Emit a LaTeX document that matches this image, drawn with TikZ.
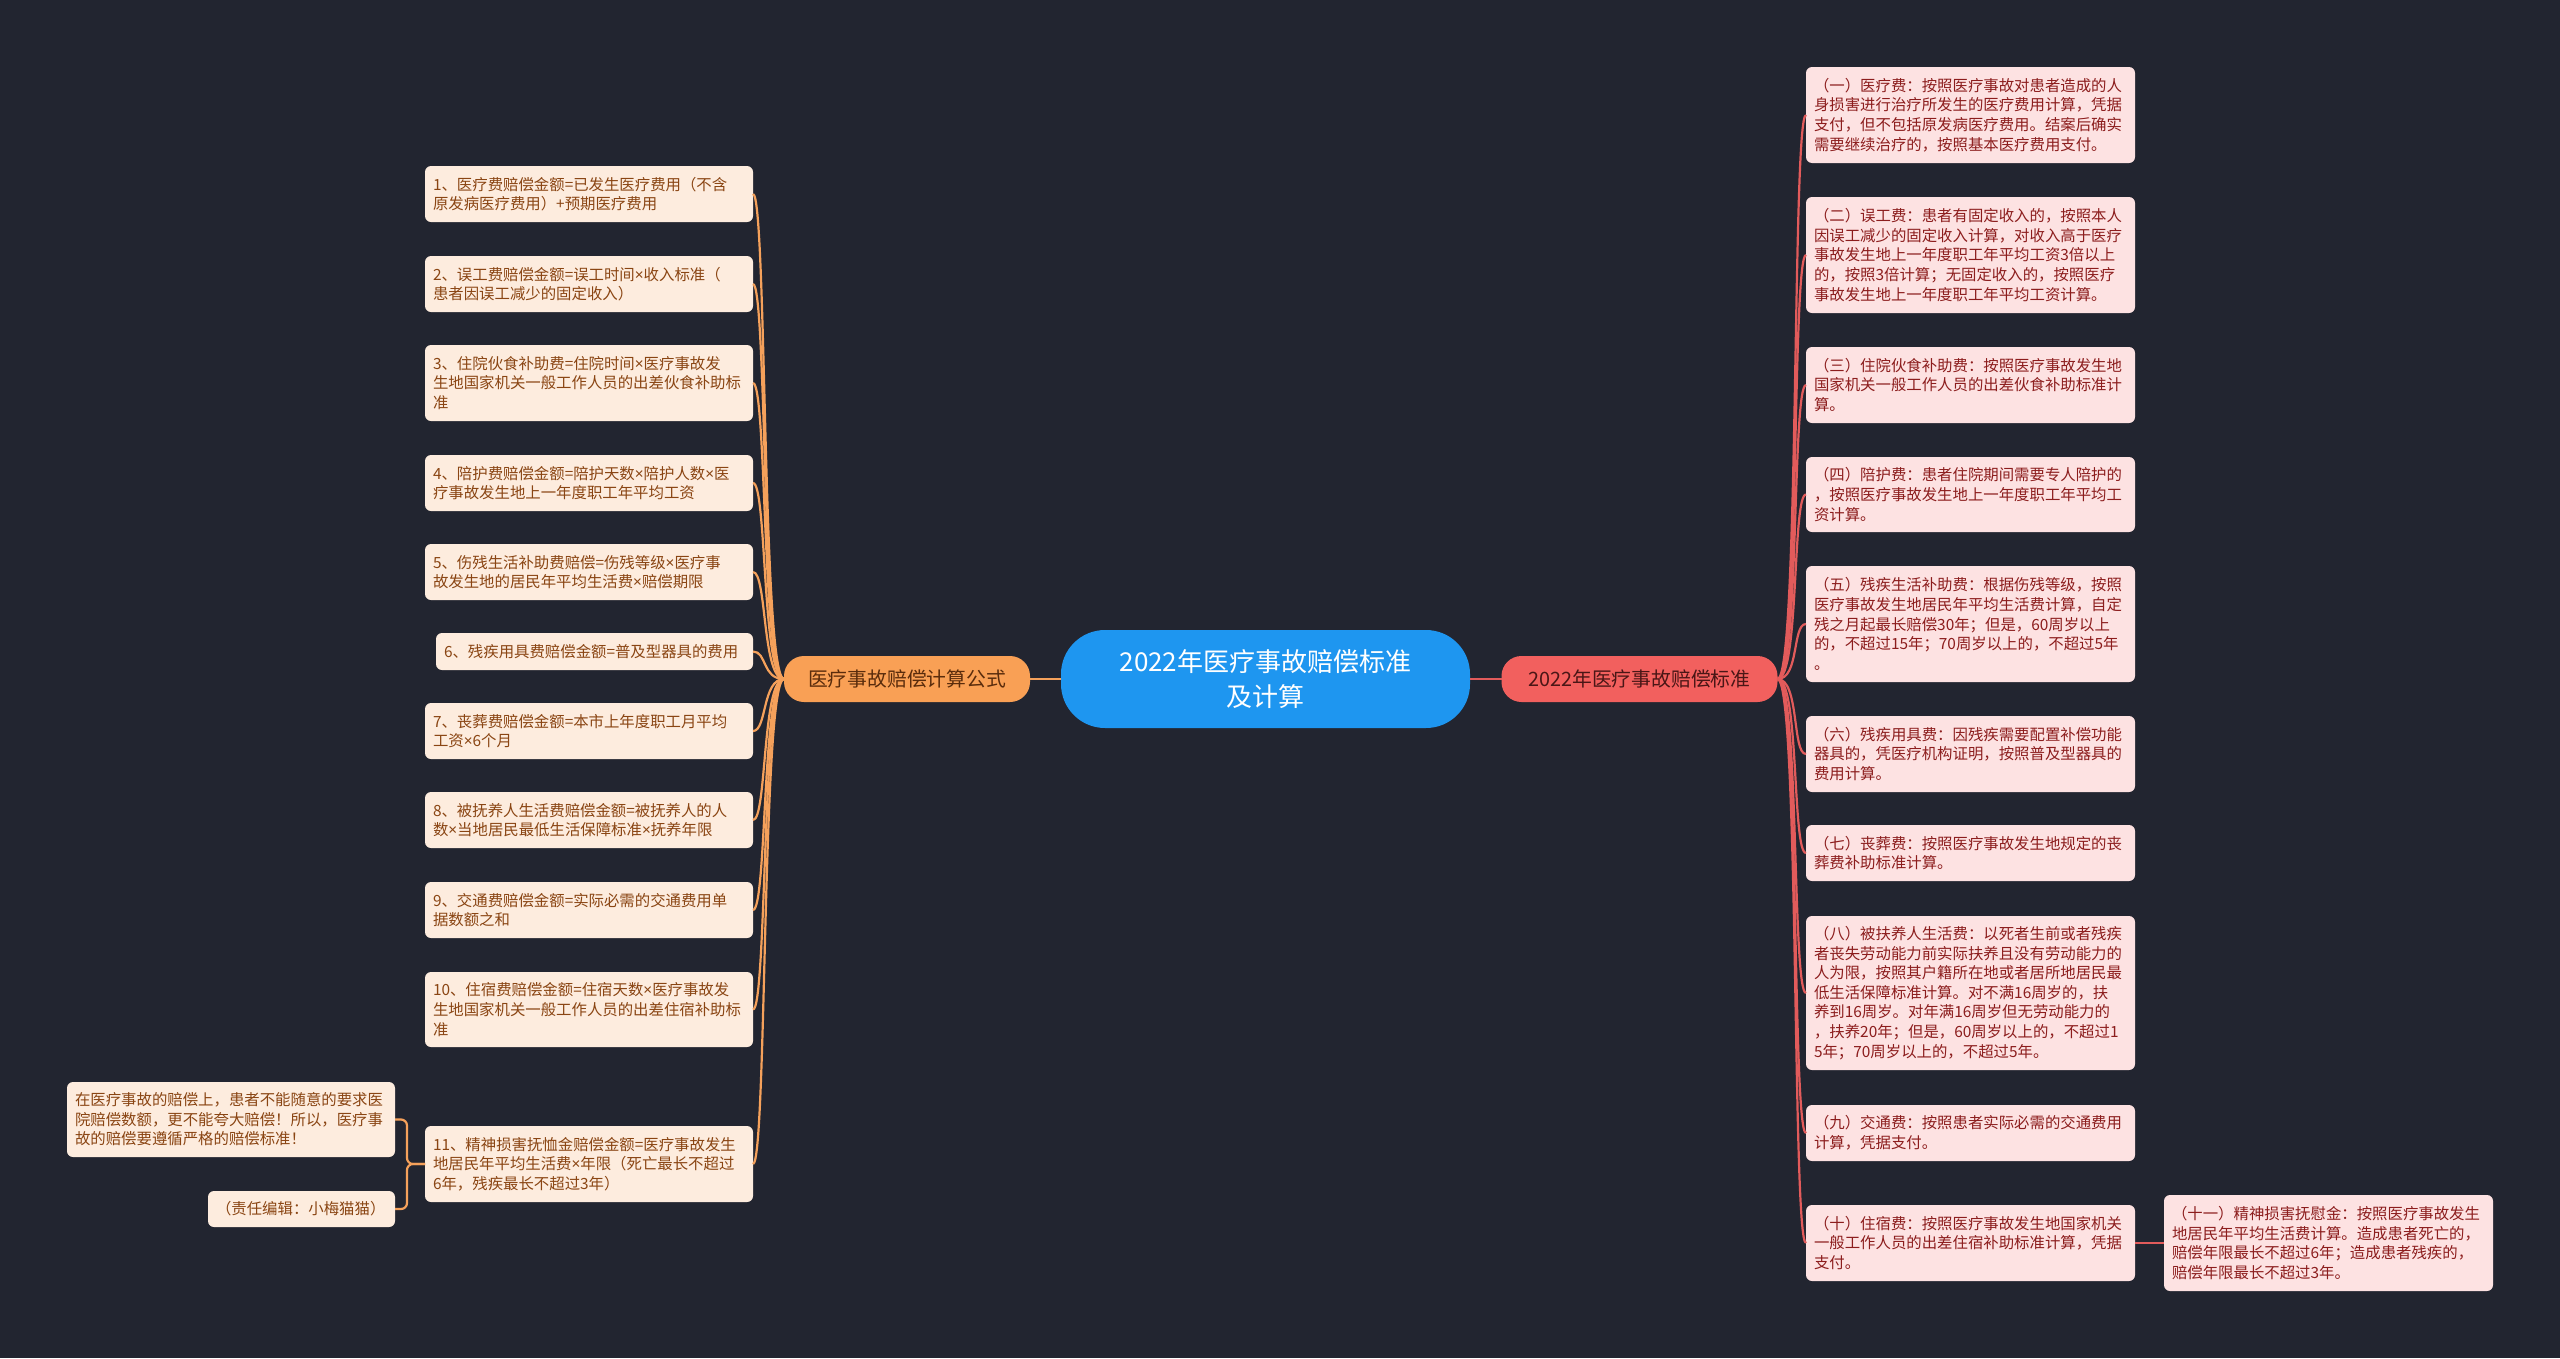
\documentclass[tikz,border=0pt]{standalone}
\usepackage{fontspec}
\setmainfont{Noto Sans CJK SC}
\newfontfamily\latinf{Noto Sans}
\newcommand\tm{{\latinf ×}}
\definecolor{bg}{HTML}{222530}
\definecolor{cblue}{HTML}{1E96F0}
\definecolor{lbfill}{HTML}{F9A055}
\definecolor{lbtext}{HTML}{5A2C0C}
\definecolor{rbfill}{HTML}{F2605E}
\definecolor{rbtext}{HTML}{4A1616}
\definecolor{lfill}{HTML}{FDECDE}
\definecolor{ltext}{HTML}{8A4513}
\definecolor{rfill}{HTML}{FDE2E2}
\definecolor{rtext}{HTML}{8C1D1D}
\definecolor{lcol}{HTML}{F5A15B}
\definecolor{rcol}{HTML}{E25B5B}
\begin{document}
\begin{tikzpicture}[x=1pt,y=-1pt,
  leafbase/.style={anchor=north west, inner xsep=8pt, inner ysep=2pt, outer sep=0pt, rounded corners=6pt, align=left, font=\fontsize{15.4}{19.6}\selectfont},
  lleaf/.style={leafbase, fill=lfill, text=ltext},
  rleaf/.style={leafbase, fill=rfill, text=rtext},
  lline/.style={draw=lcol, line width=2.2pt},
  rline/.style={draw=rcol, line width=2.2pt},
  centernode/.style={fill=cblue, text=white, minimum width=409pt, minimum height=98pt, rounded corners=44pt, align=center, inner sep=0pt, outer sep=0pt, font=\fontsize{26}{35}\selectfont},
  branchnode/.style={minimum height=46pt, rounded corners=20pt, inner sep=0pt, outer sep=0pt}
]
\useasboundingbox (0,0) rectangle (2560,1358);
\fill[bg] (0,0) rectangle (2560,1358);

% center and branches
\node[centernode] (c) at (1265.5,679) {2022年医疗事故赔偿标准\\及计算};
\node[branchnode, fill=lbfill, text=lbtext, minimum width=246pt, font=\fontsize{19.8}{24}\selectfont] (lb) at (907,679) {医疗事故赔偿计算公式};
\node[branchnode, fill=rbfill, text=rbtext, minimum width=276pt, font=\fontsize{19.8}{24}\selectfont] (rb) at (1639.5,679) {2022年医疗事故赔偿标准};

% left leaves
\node[lleaf, minimum width=328pt, text width=312pt, minimum height=56pt] (l1) at (425,166) {1、医疗费赔偿金额=已发生医疗费用（不含\\原发病医疗费用）+预期医疗费用};
\node[lleaf, minimum width=328pt, text width=312pt, minimum height=56pt] (l2) at (425,256) {2、误工费赔偿金额=误工时间\tm 收入标准（\\患者因误工减少的固定收入）};
\node[lleaf, minimum width=328pt, text width=312pt, minimum height=76pt] (l3) at (425,345) {3、住院伙食补助费=住院时间\tm 医疗事故发\\生地国家机关一般工作人员的出差伙食补助标\\准};
\node[lleaf, minimum width=328pt, text width=312pt, minimum height=56pt] (l4) at (425,455) {4、陪护费赔偿金额=陪护天数\tm 陪护人数\tm 医\\疗事故发生地上一年度职工年平均工资};
\node[lleaf, minimum width=328pt, text width=312pt, minimum height=56pt] (l5) at (425,544) {5、伤残生活补助费赔偿=伤残等级\tm 医疗事\\故发生地的居民年平均生活费\tm 赔偿期限};
\node[lleaf, minimum width=317pt, text width=301pt, minimum height=37pt] (l6) at (436,633) {6、残疾用具费赔偿金额=普及型器具的费用};
\node[lleaf, minimum width=328pt, text width=312pt, minimum height=56pt] (l7) at (425,703) {7、丧葬费赔偿金额=本市上年度职工月平均\\工资\tm 6个月};
\node[lleaf, minimum width=328pt, text width=312pt, minimum height=56pt] (l8) at (425,792) {8、被抚养人生活费赔偿金额=被抚养人的人\\数\tm 当地居民最低生活保障标准\tm 抚养年限};
\node[lleaf, minimum width=328pt, text width=312pt, minimum height=56pt] (l9) at (425,882) {9、交通费赔偿金额=实际必需的交通费用单\\据数额之和};
\node[lleaf, minimum width=328pt, text width=312pt, minimum height=75pt] (l10) at (425,972) {10、住宿费赔偿金额=住宿天数\tm 医疗事故发\\生地国家机关一般工作人员的出差住宿补助标\\准};
\node[lleaf, minimum width=328pt, text width=312pt, minimum height=76pt] (l11) at (425,1126) {11、精神损害抚恤金赔偿金额=医疗事故发生\\地居民年平均生活费\tm 年限（死亡最长不超过\\6年，残疾最长不超过3年）};

% far left
\node[lleaf, minimum width=328pt, text width=312pt, minimum height=75pt] (fa) at (67,1082) {在医疗事故的赔偿上，患者不能随意的要求医\\院赔偿数额，更不能夸大赔偿！所以，医疗事\\故的赔偿要遵循严格的赔偿标准！};
\node[lleaf, minimum width=187pt, text width=171pt, minimum height=36pt] (fb) at (208,1191) {（责任编辑：小梅猫猫）};

% right leaves
\node[rleaf, minimum width=329pt, text width=313pt, minimum height=96pt] (r1) at (1806,67) {（一）医疗费：按照医疗事故对患者造成的人\\身损害进行治疗所发生的医疗费用计算，凭据\\支付，但不包括原发病医疗费用。结案后确实\\需要继续治疗的，按照基本医疗费用支付。};
\node[rleaf, minimum width=329pt, text width=313pt, minimum height=116pt] (r2) at (1806,197) {（二）误工费：患者有固定收入的，按照本人\\因误工减少的固定收入计算，对收入高于医疗\\事故发生地上一年度职工年平均工资3倍以上\\的，按照3倍计算；无固定收入的，按照医疗\\事故发生地上一年度职工年平均工资计算。};
\node[rleaf, minimum width=329pt, text width=313pt, minimum height=76pt] (r3) at (1806,347) {（三）住院伙食补助费：按照医疗事故发生地\\国家机关一般工作人员的出差伙食补助标准计\\算。};
\node[rleaf, minimum width=329pt, text width=313pt, minimum height=75pt] (r4) at (1806,457) {（四）陪护费：患者住院期间需要专人陪护的\\，按照医疗事故发生地上一年度职工年平均工\\资计算。};
\node[rleaf, minimum width=329pt, text width=313pt, minimum height=116pt] (r5) at (1806,566) {（五）残疾生活补助费：根据伤残等级，按照\\医疗事故发生地居民年平均生活费计算，自定\\残之月起最长赔偿30年；但是，60周岁以上\\的，不超过15年；70周岁以上的，不超过5年\\。};
\node[rleaf, minimum width=329pt, text width=313pt, minimum height=76pt] (r6) at (1806,716) {（六）残疾用具费：因残疾需要配置补偿功能\\器具的，凭医疗机构证明，按照普及型器具的\\费用计算。};
\node[rleaf, minimum width=329pt, text width=313pt, minimum height=56pt] (r7) at (1806,825) {（七）丧葬费：按照医疗事故发生地规定的丧\\葬费补助标准计算。};
\node[rleaf, minimum width=329pt, text width=313pt, minimum height=154pt] (r8) at (1806,916) {（八）被扶养人生活费：以死者生前或者残疾\\者丧失劳动能力前实际扶养且没有劳动能力的\\人为限，按照其户籍所在地或者居所地居民最\\低生活保障标准计算。对不满16周岁的，扶\\养到16周岁。对年满16周岁但无劳动能力的\\，扶养20年；但是，60周岁以上的，不超过1\\5年；70周岁以上的，不超过5年。};
\node[rleaf, minimum width=329pt, text width=313pt, minimum height=56pt] (r9) at (1806,1105) {（九）交通费：按照患者实际必需的交通费用\\计算，凭据支付。};
\node[rleaf, minimum width=329pt, text width=313pt, minimum height=76pt] (r10) at (1806,1205) {（十）住宿费：按照医疗事故发生地国家机关\\一般工作人员的出差住宿补助标准计算，凭据\\支付。};
\node[rleaf, minimum width=329pt, text width=313pt, minimum height=96pt] (r11) at (2164,1195) {（十一）精神损害抚慰金：按照医疗事故发生\\地居民年平均生活费计算。造成患者死亡的，\\赔偿年限最长不超过6年；造成患者残疾的，\\赔偿年限最长不超过3年。};

% connectors
\draw[lline] (c.west) -- (lb.east);
\draw[rline] (c.east) -- (rb.west);
\foreach \n in {l1,l2,l3,l4,l5,l6,l7,l8,l9,l10,l11}
  \draw[lline] (lb.west) .. controls +(-22,0) and +(14,0) .. (\n.east);
\foreach \n in {r1,r2,r3,r4,r5,r6,r7,r8,r9,r10}
  \draw[rline] (rb.east) .. controls +(22,0) and +(-14,0) .. (\n.west);
\draw[lline, rounded corners=6pt] (l11.west) -- ++(-18,0) |- (fa.east);
\draw[lline, rounded corners=6pt] (l11.west) -- ++(-18,0) |- (fb.east);
\draw[rline] (r10.east) -- (r11.west);
\end{tikzpicture}
\end{document}
